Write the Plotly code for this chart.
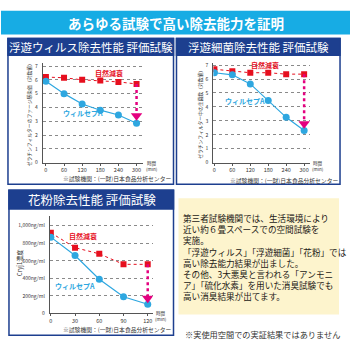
import plotly.graph_objects as go

W = 350.0
def px(x): return x / W
def py(y): return 1 - y / W

# ---------------- data ----------------
banner_title = "あらゆる試験で高い除去能力を証明"
panel_titles = ["浮遊ウィルス除去性能 評価試験", "浮遊細菌除去性能 評価試験", "花粉除去性能 評価試験"]
series_names = ["自然減衰", "ウィルセプA"]

t1 = [0, 60, 120, 180, 240, 300]
nat1 = [6.2, 6.15, 6.0, 5.95, 5.85, 5.7]
wil1 = [5.9, 5.0, 4.25, 3.8, 3.45, 2.85]
tip1 = 3.4
ytitle1 = "ゼラチンフィルターのファージ感染価（対数値）"

t2 = [0, 60, 120, 180, 240, 300]
nat2 = [6.7, 6.55, 6.45, 6.45, 6.35, 6.35]
wil2 = [6.45, 6.3, 5.65, 4.45, 3.25, 2.3]
tip2 = 2.8
ytitle2 = "ゼラチンフィルター中の生菌数（対数値）"

t3 = [0, 30, 60, 90, 120]
nat3 = [920, 750, 680, 560, 560]
wil3 = [870, 660, 390, 190, 105]
tip3 = 175
ytitle3 = "Cryj1濃度"
yticks3 = [0, 200, 400, 600, 800, 1000]
yticklabels3 = ["0", "200ng/ml", "400ng/ml", "600ng/ml", "800ng/ml", "1,000ng/ml"]

footnote = "※試験機関：(一財)日本食品分析センター"
body_text = ("第三者試験機関では、生活環境により<br>近い約６畳スペースでの空間試験を<br>実施。<br>"
             "「浮遊ウィルス」「浮遊細菌」「花粉」では<br>高い除去能力結果が出ました。<br>"
             "その他、3大悪臭と言われる「アンモニ<br>ア」「硫化水素」を用いた消臭試験でも<br>高い消臭結果が出てます。")
disclaimer = "※実使用空間での実証結果ではありません"

RED = "#e60f1e"
BLUE = "#2ea7e0"
MAG = "#e4007f"
NAVY = "#1d3f8f"
CYAN = "#17ace4"
FONT = "Noto Sans CJK JP"

fig = go.Figure()

panels = [
    dict(t=t1, nat=nat1, wil=wil1, tip=tip1, xa="x", ya="y",
         xdom=(42, 142), ydom=(62, 163), xr=[-10, 320], yr=[0, 7.21],
         xticks=t1, yticks=list(range(8)), yticklabels=[str(i) for i in range(8)],
         natlab=(208, 6.5), wil_lab=(122, 3.57), ytitle=ytitle1, ytx=28, yty=113,
         timex=151, timey=166, footx=116, footy=179),
    dict(t=t2, nat=nat2, wil=wil2, tip=tip2, xa="x2", ya="y2",
         xdom=(213, 310), ydom=(62, 163), xr=[-3.3, 320], yr=[0, 7.14],
         xticks=t2, yticks=list(range(8)), yticklabels=[str(i) for i in range(8)],
         natlab=(170, 7.0), wil_lab=(103, 4.45), ytitle=ytitle2, ytx=200, yty=113,
         timex=318, timey=166, footx=284, footy=181),
    dict(t=t3, nat=nat3, wil=wil3, tip=tip3, xa="x3", ya="y3",
         xdom=(49, 152), ydom=(217, 316), xr=[-1.2, 126], yr=[0, 1112],
         xticks=t3, yticks=yticks3, yticklabels=yticklabels3,
         natlab=(40, 880), wil_lab=(30, 315), ytitle=ytitle3, ytx=18, yty=265,
         timex=160, timey=319, footx=116, footy=332),
]

shapes = []
annotations = []

def note(x, y, text, size, color, xref="paper", yref="paper", **kw):
    d = dict(xref=xref, yref=yref, x=x, y=y, text=text, showarrow=False,
             xanchor=kw.pop("xanchor", "center"), yanchor=kw.pop("yanchor", "middle"),
             font=dict(family=FONT, size=size, color=color))
    d.update(kw)
    annotations.append(d)

# banner
shapes.append(dict(type="rect", xref="paper", yref="paper", x0=0, x1=1, y0=py(33), y1=py(9),
                   fillcolor=CYAN, line=dict(width=0), layer="above"))
note(px(175), py(21), "<b>" + banner_title + "</b>", 13.5, "white")

# panel boxes
boxes = [((7, 173), (37, 185), (37, 54), 11.5, 90), ((176, 340), (37, 185), (37, 54), 11.5, 258),
         ((8, 173), (191, 338), (191, 210), 12.5, 91)]
for i, ((x0, x1), (y0, y1), (ty0, ty1), fs, tx) in enumerate(boxes):
    shapes.append(dict(type="rect", xref="paper", yref="paper", x0=px(x0), x1=px(x1), y0=py(y1), y1=py(y0),
                       fillcolor="rgba(0,0,0,0)", line=dict(color=NAVY, width=1.5), layer="above"))
    shapes.append(dict(type="rect", xref="paper", yref="paper", x0=px(x0), x1=px(x1), y0=py(ty1), y1=py(ty0),
                       fillcolor=NAVY, line=dict(color=NAVY, width=1.5), layer="above"))
    note(px(tx), py((ty0 + ty1) / 2), panel_titles[i], fs, "white")

# text box
shapes.append(dict(type="rect", xref="paper", yref="paper", x0=px(178), x1=px(339), y0=py(317), y1=py(199),
                   fillcolor="#fdf4cd", line=dict(width=0), layer="below"))
note(px(181), py(211), body_text, 8.6, "#231815", xanchor="left", yanchor="top", align="left")
note(px(262), py(337), disclaimer, 8.2, "#333")

layout_axes = {}
for k, p in enumerate(panels):
    xa, ya = p["xa"], p["ya"]
    xname = "xaxis" if xa == "x" else "xaxis" + xa[1:]
    yname = "yaxis" if ya == "y" else "yaxis" + ya[1:]
    layout_axes[xname] = dict(domain=[px(p["xdom"][0]), px(p["xdom"][1])], range=p["xr"], anchor=ya,
                              tickvals=p["xticks"], showgrid=False, zeroline=False, showline=True,
                              linecolor="#555", linewidth=1, ticks="outside", ticklen=2, tickcolor="#555",
                              tickfont=dict(family=FONT, size=5.5, color="#333"), fixedrange=True)
    layout_axes[yname] = dict(domain=[py(p["ydom"][1]), py(p["ydom"][0])], range=p["yr"], anchor=xa,
                              tickvals=p["yticks"], ticktext=p["yticklabels"], showgrid=True,
                              gridcolor="#8a8a8a", griddash="dot", gridwidth=1, zeroline=False,
                              showline=True, linecolor="#555", linewidth=1, ticks="",
                              ticklabelstandoff=3,
                              tickfont=dict(family=FONT, size=5, color="#333"), fixedrange=True)
    fig.add_trace(go.Scatter(x=p["t"], y=p["nat"], xaxis=xa, yaxis=ya, mode="lines+markers",
                             line=dict(color=RED, width=1, dash="dot"),
                             marker=dict(symbol="square", size=6, color=RED), showlegend=False))
    fig.add_trace(go.Scatter(x=p["t"], y=p["wil"], xaxis=xa, yaxis=ya, mode="lines+markers",
                             line=dict(color=BLUE, width=1.2),
                             marker=dict(symbol="circle", size=7, color=BLUE), showlegend=False))
    xl = p["t"][-1]
    fig.add_trace(go.Scatter(x=[xl, xl], y=[p["nat"][-1], p["tip"]], xaxis=xa, yaxis=ya, mode="lines",
                             line=dict(color=MAG, width=2.5, dash="dot"), showlegend=False))
    fig.add_trace(go.Scatter(x=[xl], y=[p["tip"]], xaxis=xa, yaxis=ya, mode="markers",
                             marker=dict(symbol="triangle-down", size=10, color=MAG), showlegend=False))
    note(p["natlab"][0], p["natlab"][1], "<b>" + series_names[0] + "</b>", 7, RED, xref=xa, yref=ya)
    note(p["wil_lab"][0], p["wil_lab"][1], "<b>" + series_names[1] + "</b>", 7, BLUE, xref=xa, yref=ya)
    note(px(p["ytx"]), py(p["yty"]), p["ytitle"], 4.8 if k < 2 else 6, "#333", textangle=-90)
    note(px(p["timex"]), py(p["timey"]), "時間<br>(min)", 4.5, "#333", align="center")
    note(px(p["footx"]), py(p["footy"]), footnote, 5.8, "#333")

fig.update_layout(width=350, height=350, margin=dict(l=0, r=0, t=0, b=0),
                  paper_bgcolor="white", plot_bgcolor="rgba(0,0,0,0)",
                  shapes=shapes, annotations=annotations, **layout_axes)

fig.write_html("out.html", config={"displayModeBar": False})
